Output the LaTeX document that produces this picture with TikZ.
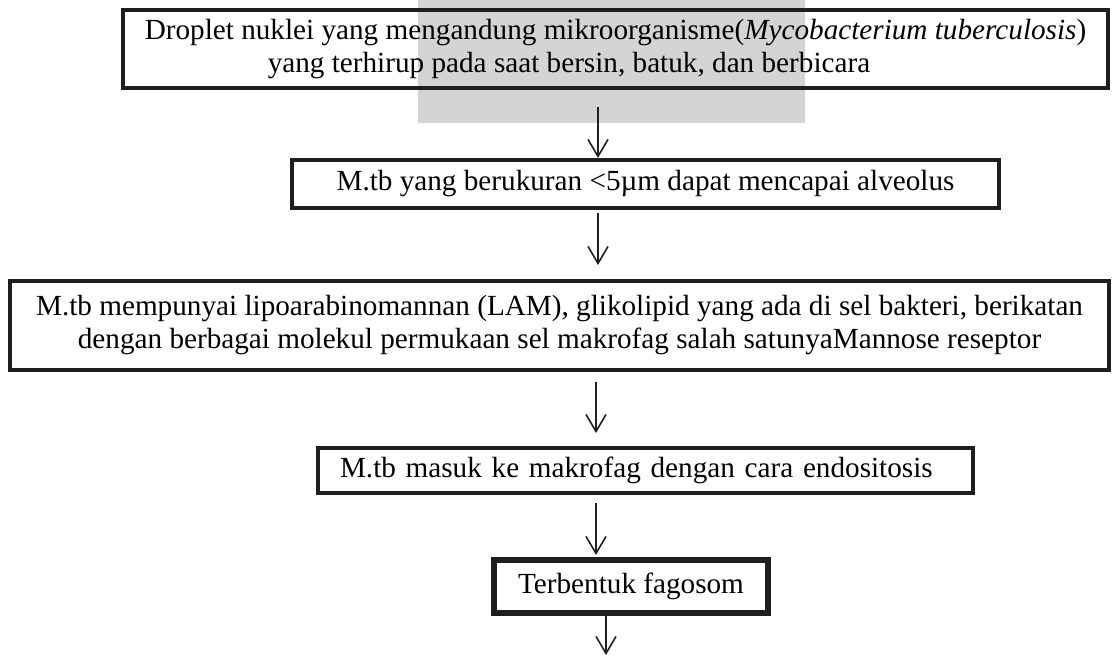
\documentclass[tikz,border=0pt]{standalone}
\usepackage{fontspec}
\setmainfont{Liberation Serif}
\usetikzlibrary{arrows.meta}
\begin{document}
\begin{tikzpicture}[x=0.5pt,y=-0.5pt,
  box/.style={draw=black!88, line width=2pt, inner sep=0pt, align=center,
    font=\fontsize{14.6pt}{16.5pt}\selectfont},
  arr/.style={draw=black!88, line width=0.8pt, -{Straight Barb[length=8.5pt,width=10pt,line width=0.8pt]}}]
\useasboundingbox (0,0) rectangle (1112,660);
\fill[white] (0,0) rectangle (1112,660);
\fill[black!17] (418,0) rectangle (805,123);
\node[box, minimum width=492.5pt, minimum height=39pt, align=left] (b1) at (615.5,49)
  {Droplet nuklei yang mengandung mikroorganisme(\textit{Mycobacterium tuberculosis})\\
   \hspace*{61.5pt}yang terhirup pada saat bersin, batuk, dan berbicara};
\node[box, minimum width=353.5pt, minimum height=24pt] (b2) at (645.5,184)
  {M.tb yang berukuran <5µm dapat mencapai alveolus};
\node[box, minimum width=549.5pt, minimum height=44.5pt] (b3) at (559.5,325.5)
  {M.tb mempunyai lipoarabinomannan (LAM), glikolipid yang ada di sel bakteri, berikatan\\
   dengan berbagai molekul permukaan sel makrofag salah satunyaMannose reseptor};
\node[box, minimum width=327.5pt, minimum height=22.5pt, inner xsep=11pt, text width=305.5pt, align=left] (b4) at (645.5,470.5)
  {M.tb masuk ke makrofag dengan cara endositosis};
\node[box, line width=3pt, minimum width=137pt, minimum height=26.5pt] (b5) at (631,586.5)
  {Terbentuk fagosom};
\coordinate (a1s) at (598,107); \coordinate (a1e) at (598,158);
\coordinate (a2s) at (598,213); \coordinate (a2e) at (598,265);
\coordinate (a3s) at (596,382); \coordinate (a3e) at (596,433);
\coordinate (a4s) at (596,503); \coordinate (a4e) at (596,555);
\coordinate (a5s) at (606,614); \coordinate (a5e) at (606,655);
\draw[arr] (a1s) -- (a1e);
\draw[arr] (a2s) -- (a2e);
\draw[arr] (a3s) -- (a3e);
\draw[arr] (a4s) -- (a4e);
\draw[arr] (a5s) -- (a5e);
\end{tikzpicture}
\end{document}
